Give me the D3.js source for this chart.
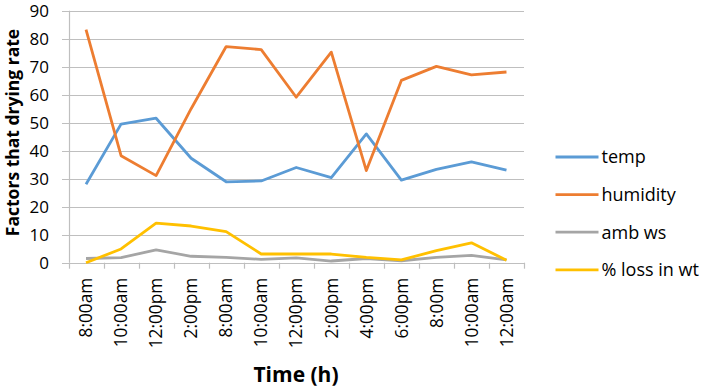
<!DOCTYPE html>
<html><head><meta charset="utf-8">
<script src="https://cdn.jsdelivr.net/npm/d3@7"></script>
<style>body{margin:0;background:#fff;} svg{display:block;font-family:"Open Sans", sans-serif;}</style>
</head><body>
<svg id="c" width="702" height="389"></svg>
<script>
const categories = ["8:00am","10:00am","12:00pm","2:00pm","8:00am","10:00am","12:00pm","2:00pm","4:00pm","6:00pm","8:00m","10:00am","12:00am"];
const temp     = [28, 49.5, 51.6, 37.3, 28.9, 29.2, 34, 30.4, 46, 29.5, 33.3, 36, 33.1];
const humidity = [83.2, 38.2, 31.1, 55, 77.2, 76.1, 59.1, 75.2, 32.9, 65.1, 70.1, 67.1, 68.1];
const ambWs    = [1.5, 1.8, 4.6, 2.3, 1.9, 1.2, 1.7, 0.6, 1.5, 0.7, 1.9, 2.6, 1.0];
const loss     = [0, 4.9, 14.1, 13.1, 11.1, 3.1, 3.1, 3.1, 1.9, 1.0, 4.3, 7.1, 0.9];
const seriesNames = ["temp","humidity","amb ws","% loss in wt"];
const yTicks = [0,10,20,30,40,50,60,70,80,90];

const series = [
  {name: seriesNames[0], values: temp, color: "#5B9BD5"},
  {name: seriesNames[1], values: humidity, color: "#ED7D31"},
  {name: seriesNames[2], values: ambWs, color: "#A5A5A5"},
  {name: seriesNames[3], values: loss, color: "#FFC000"}
];

const svg = d3.select("#c");
const L = 68.5, R = 524, T = 10.7, B = 262.7;
const x = d3.scaleBand().domain(d3.range(categories.length)).range([L, R]);
const y = d3.scaleLinear().domain([0, 90]).range([B, T]);

// gridlines (with left tick stubs)
svg.append("g").selectAll("line").data(yTicks).join("line")
  .attr("x1", 62).attr("x2", R)
  .attr("y1", d => Math.round(y(d)) + 0.5).attr("y2", d => Math.round(y(d)) + 0.5)
  .attr("stroke", "#BFBFBF").attr("stroke-width", 1.2);

// y labels
svg.append("g").selectAll("text").data(yTicks).join("text")
  .attr("x", 49).attr("y", d => y(d)).attr("dy", "0.36em")
  .attr("text-anchor", "end").attr("font-size", 17).attr("fill", "#000")
  .text(d => d);

// left axis line
svg.append("line").attr("x1", Math.round(L) + 0.5).attr("x2", Math.round(L) + 0.5).attr("y1", T).attr("y2", B)
  .attr("stroke", "#BFBFBF").attr("stroke-width", 1.2);

// x axis with ticks
const xAxis = d3.axisBottom(x).tickSize(0).tickFormat(() => "");
const gx = svg.append("g").attr("transform", `translate(0,${Math.round(B)+0.5})`).call(xAxis);
gx.select(".domain").attr("stroke", "#BFBFBF").attr("stroke-width", 1.2).attr("d", `M${L},0H${R}`);
const edges = d3.range(categories.length + 1).map(i => i === categories.length ? R : x(i));
svg.append("g").selectAll("line").data(edges).join("line")
  .attr("x1", d => Math.round(d) + 0.5).attr("x2", d => Math.round(d) + 0.5)
  .attr("y1", B).attr("y2", B + 6).attr("stroke", "#BFBFBF").attr("stroke-width", 1.2);

// x labels rotated
svg.append("g").selectAll("text").data(categories).join("text")
  .attr("transform", (d, i) => `translate(${x(i) + x.bandwidth()/2},${B + 15}) rotate(-90)`)
  .attr("dy", "0.36em").attr("text-anchor", "end").attr("font-size", 17.3).attr("fill", "#000")
  .text(d => d);

// lines
const line = d3.line().x((d, i) => x(i) + x.bandwidth()/2).y(d => y(d));
svg.append("g").selectAll("path").data(series).join("path")
  .attr("d", s => line(s.values)).attr("fill", "none")
  .attr("stroke", s => s.color).attr("stroke-width", 2.8).attr("stroke-linejoin", "round");

// axis titles
svg.append("text").attr("x", 296).attr("y", 382).attr("text-anchor", "middle")
  .attr("font-size", 21).attr("font-weight", "bold").text("Time (h)");
svg.append("text").attr("transform", "translate(18.5,132.5) rotate(-90)").attr("text-anchor", "middle")
  .attr("font-size", 17.5).attr("font-weight", "bold").text("Factors that drying rate");

// legend
const lg = svg.append("g").selectAll("g").data(series).join("g")
  .attr("transform", (d, i) => `translate(555.5,${157 + i * 37.6})`);
lg.append("line").attr("x1", 0).attr("x2", 43).attr("stroke", d => d.color).attr("stroke-width", 2.8);
lg.append("text").attr("x", 46).attr("dy", "0.36em").attr("font-size", 18).text(d => d.name);
</script>
</body></html>
